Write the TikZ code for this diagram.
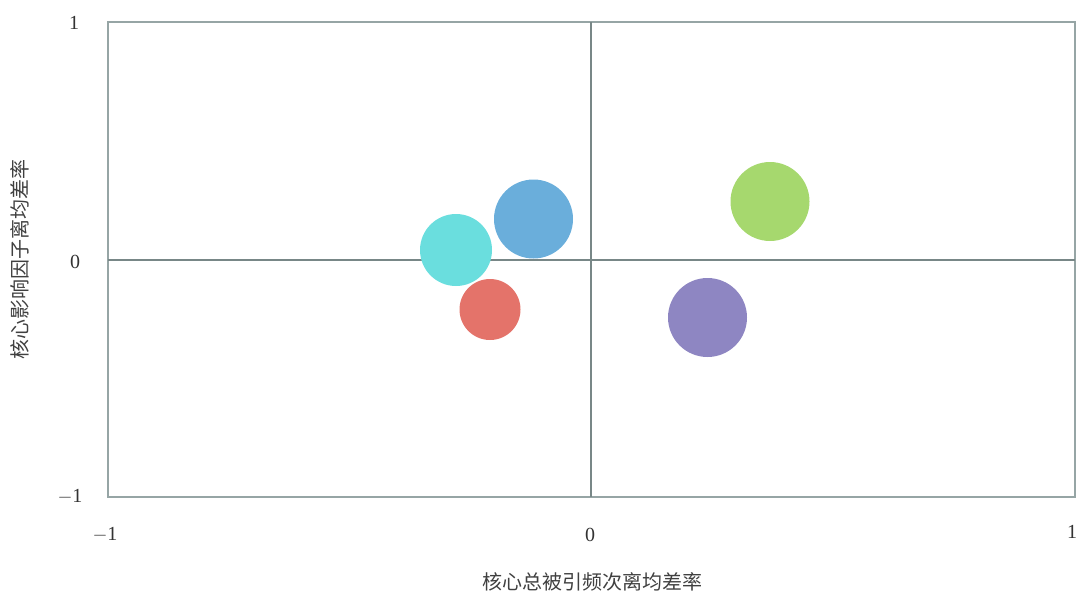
\documentclass[tikz,border=0pt]{standalone}
\usepackage{fontspec}
\setmainfont{Liberation Serif}
\newfontfamily\cjk{Noto Sans CJK SC}
\definecolor{boxc}{RGB}{150,165,165}
\definecolor{axc}{RGB}{120,135,135}
\definecolor{bcyan}{RGB}{106,222,222}
\definecolor{bblue}{RGB}{106,174,219}
\definecolor{bred}{RGB}{228,115,106}
\definecolor{bgreen}{RGB}{166,216,110}
\definecolor{bpurple}{RGB}{142,134,194}
\begin{document}
\begin{tikzpicture}[x=0.75pt,y=-0.75pt,
  tick/.style={font=\fontsize{15}{17}\selectfont,text=black!80},
  title/.style={font=\cjk\fontsize{15}{17}\selectfont,text=black!75},
  bubble/.style={circle,inner sep=0pt,draw=none}]
\useasboundingbox (0,0) rectangle (1077,596);
\coordinate (tl) at (108,22);
\coordinate (br) at (1075,497);
\draw[boxc,line width=1.1pt] (tl) rectangle (br);
\coordinate (xl) at (108,260);
\coordinate (xr) at (1075,260);
\coordinate (yt) at (591,22);
\coordinate (yb) at (591,497);
\draw[axc,line width=2.2pt] (xl) -- (xr);
\draw[axc,line width=2.2pt] (yt) -- (yb);
% bubbles
\node[bubble,fill=bcyan,minimum size=72*0.75pt] (c1) at (456,250) {};
\node[bubble,fill=bblue,minimum size=79*0.75pt] (c2) at (533.5,219) {};
\node[bubble,fill=bred,minimum size=61*0.75pt] (c3) at (490,309.5) {};
\node[bubble,fill=bgreen,minimum size=79*0.75pt] (c4) at (770,201.5) {};
\node[bubble,fill=bpurple,minimum size=79*0.75pt] (c5) at (707.5,317.5) {};
% tick labels
\node[tick] (y1) at (74,23) {1};
\node[tick] (y0) at (75,262) {0};
\node[tick] (ym1) at (70,497) {$-$1};
\node[tick] (xm1) at (105,535) {$-$1};
\node[tick] (x0) at (590,535) {0};
\node[tick] (x1) at (1072,532) {1};
% titles
\node[title] (xt) at (592,582) {核心总被引频次离均差率};
\node[title,rotate=90] (yt2) at (20,259) {核心影响因子离均差率};
\end{tikzpicture}
\end{document}
